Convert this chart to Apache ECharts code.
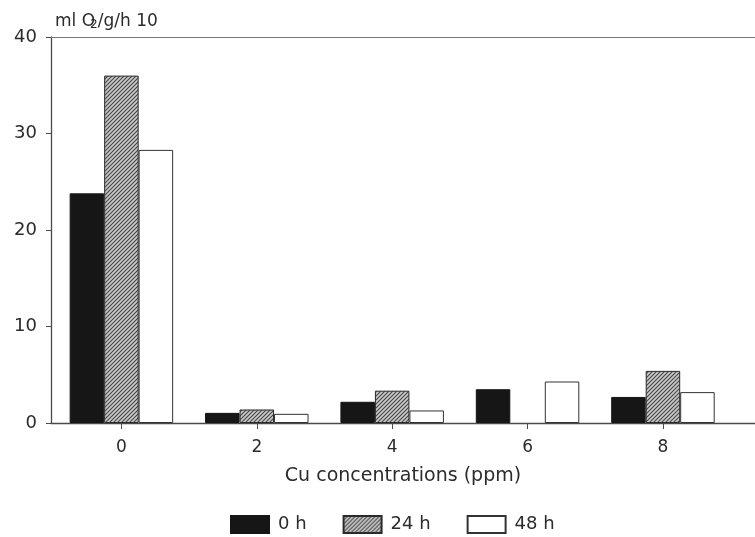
<!DOCTYPE html>
<html>
<head>
<meta charset="utf-8">
<script src="https://cdn.jsdelivr.net/npm/echarts@6/dist/echarts.min.js"></script>
<style>
  html, body { margin: 0; padding: 0; background: #fff; }
  #chart { width: 755px; height: 537px; }
</style>
</head>
<body>
<div id="chart"></div>
<script>
// Cu concentrations (ppm) on the x axis
const concentrations = [0, 2, 4, 6, 8];
// Oxygen uptake (ml O2/g/h, x10) after each exposure time
const hours0 = [23.8, 1.05, 2.2, 3.5, 2.7];
const hours24 = [36.0, 1.4, 3.35, null, 5.4];
const hours48 = [28.3, 0.95, 1.3, 4.3, 3.2];
const seriesNames = ['0 h', '24 h', '48 h'];
const yTicks = [0, 10, 20, 30, 40];

// Fine diagonal hatching for the 24 h bars
function hatchPattern() {
  const c = document.createElement('canvas');
  const s = 4;
  c.width = s; c.height = s;
  const g = c.getContext('2d');
  g.fillStyle = '#cacaca';
  g.fillRect(0, 0, s, s);
  g.strokeStyle = '#444';
  g.lineWidth = 1.1;
  g.beginPath();
  g.moveTo(0, s); g.lineTo(s, 0);
  g.moveTo(-1, 1); g.lineTo(1, -1);
  g.moveTo(s - 1, s + 1); g.lineTo(s + 1, s - 1);
  g.stroke();
  return c;
}

const pairs = (vals) => concentrations.map((x, i) => [x, vals[i]]);
const textColor = '#2b2b2b';
const axisColor = '#4a4a4a';
const font = 'DejaVu Sans';

const chart = echarts.init(document.getElementById('chart'), null, { renderer: 'canvas' });

chart.setOption({
  animation: false,
  backgroundColor: '#fff',
  textStyle: { fontFamily: font, color: textColor },
  title: {
    text: 'ml O{s|2}/g/h 10',
    left: 50, top: 7,
    textStyle: {
      fontFamily: font, fontSize: 17, fontWeight: 'normal', color: textColor,
      rich: { s: { fontFamily: font, fontSize: 12, color: textColor, verticalAlign: 'bottom', padding: [7, 0, 0, -5] } }
    }
  },
  grid: { left: 51, right: 0, top: 37, bottom: 114 },
  legend: {
    left: 225, top: 510,
    icon: 'rect',
    itemWidth: 38, itemHeight: 17, itemGap: 36,
    data: seriesNames,
    textStyle: { fontFamily: font, fontSize: 18, color: textColor, padding: [0, 0, 0, 4] }
  },
  xAxis: [{
    type: 'value',
    min: -1.04, max: 9.36,
    name: 'Cu concentrations (ppm)',
    nameLocation: 'middle',
    nameGap: 44,
    nameTextStyle: { fontFamily: font, fontSize: 19, color: textColor },
    axisLine: { show: true, onZero: false, lineStyle: { color: axisColor, width: 1.3 } },
    axisTick: { show: true, length: 6, customValues: concentrations, lineStyle: { color: axisColor } },
    axisLabel: { customValues: concentrations, margin: 16, fontFamily: font, fontSize: 17, color: textColor },
    splitLine: { show: false }
  }, {
    type: 'value',
    position: 'top',
    min: -1.04, max: 9.36,
    axisLine: { show: true, onZero: false, lineStyle: { color: '#777', width: 1 } },
    axisTick: { show: false },
    axisLabel: { show: false },
    splitLine: { show: false }
  }],
  yAxis: {
    type: 'value',
    min: yTicks[0], max: yTicks[yTicks.length - 1], interval: 10,
    axisLine: { show: true, onZero: false, lineStyle: { color: axisColor, width: 1.3 } },
    axisTick: { show: true, length: 5, lineStyle: { color: axisColor } },
    axisLabel: { margin: 14, fontFamily: font, fontSize: 18, color: textColor },
    splitLine: { show: false }
  },
  series: [{
    name: seriesNames[0], type: 'bar', data: pairs(hours0),
    barWidth: 34.5, barGap: '0%',
    itemStyle: { color: '#161616', borderColor: '#161616', borderWidth: 1 }
  }, {
    name: seriesNames[1], type: 'bar', data: pairs(hours24),
    barWidth: 34.5, barGap: '0%',
    itemStyle: { color: { image: hatchPattern(), repeat: 'repeat' }, borderColor: '#2a2a2a', borderWidth: 1 }
  }, {
    name: seriesNames[2], type: 'bar', data: pairs(hours48),
    barWidth: 34.5, barGap: '0%',
    itemStyle: { color: '#ffffff', borderColor: '#333', borderWidth: 1 }
  }]
});
</script>
</body>
</html>
